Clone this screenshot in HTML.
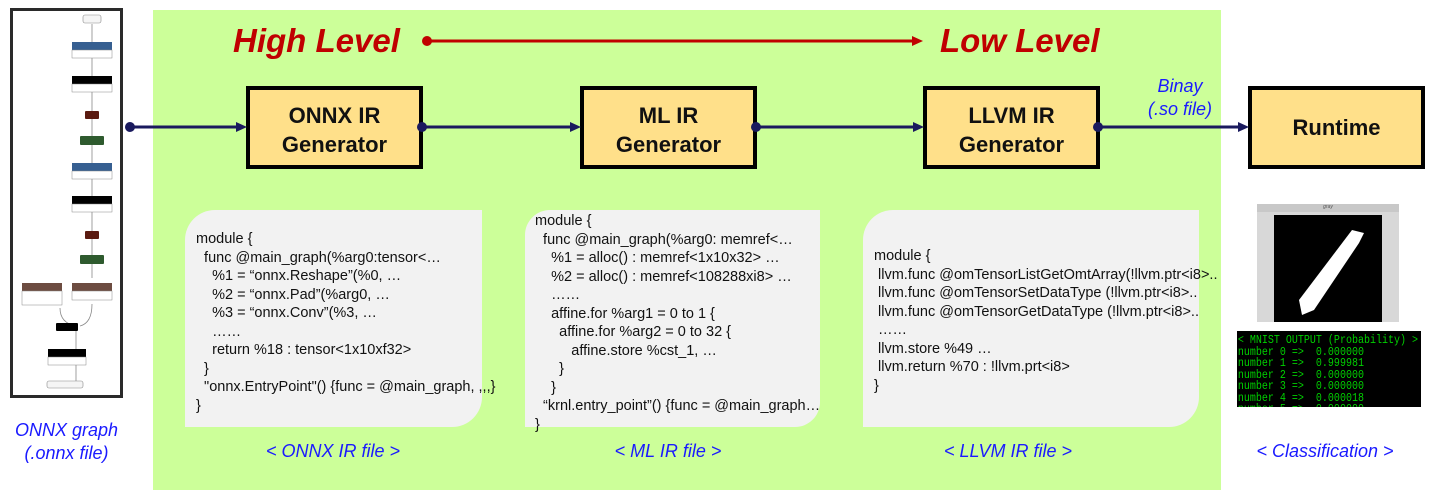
<!DOCTYPE html>
<html><head><meta charset="utf-8"><style>
*{margin:0;padding:0;box-sizing:border-box}
body{width:1434px;height:497px;background:#fff;position:relative;overflow:hidden;font-family:"Liberation Sans",Arial,sans-serif}
.a{position:absolute}
.green{left:153px;top:10px;width:1068px;height:480px;background:#ccff99}
.box{position:absolute;top:86px;height:83px;width:177px;background:#ffe08a;border:4px solid #000;font-weight:bold;font-size:22px;text-align:center;line-height:29px;padding-top:11px;color:#111}
.code{position:absolute;top:210px;height:217px;background:#f2f2f2;border-radius:30px 0 30px 0;font-size:14.5px;line-height:18.5px;color:#111;white-space:pre}
.lvl{position:absolute;top:22px;font-size:33px;font-weight:bold;font-style:italic;color:#c00000}
.lab{position:absolute;font-size:18px;font-style:italic;color:#1a1aff;text-align:center}
.term{left:1237px;top:331px;width:184px;height:76px;background:#000;overflow:hidden}
.term div{color:#00d000;font-family:"Liberation Mono",monospace;font-size:11.5px;line-height:11.5px;white-space:pre;transform:scaleX(0.87);transform-origin:0 0;padding:4px 0 0 1px}
</style></head><body>
<div class="a green"></div>

<div class="a" style="left:10px;top:8px;width:113px;height:390px;border:3px solid #2a2a2a;background:#fff"></div>
<svg class="a" style="left:10px;top:8px" width="113" height="390" font-family="Liberation Sans" font-size="4">
<g stroke="#888" stroke-width="0.8" fill="none">
<line x1="82" y1="16" x2="82" y2="270"/><path d="M50 300 Q50 315 66 318"/><path d="M82 296 Q82 315 70 318"/><line x1="66" y1="322" x2="66" y2="380"/>
</g>
<rect x="73" y="7" width="18" height="8" rx="2" fill="#f5f5f5" stroke="#888" stroke-width=".6"/>
<rect x="62" y="34" width="40" height="8" fill="#365f91"/><rect x="62" y="42" width="40" height="8" fill="#fff" stroke="#888" stroke-width=".5"/>
<rect x="62" y="68" width="40" height="8" fill="#000"/><rect x="62" y="76" width="40" height="8" fill="#fff" stroke="#888" stroke-width=".5"/>
<rect x="75" y="103" width="14" height="8" rx="1" fill="#5a1a10"/>
<rect x="70" y="128" width="24" height="9" rx="1" fill="#2e5a2e"/>
<rect x="62" y="155" width="40" height="8" fill="#365f91"/><rect x="62" y="163" width="40" height="8" fill="#fff" stroke="#888" stroke-width=".5"/>
<rect x="62" y="188" width="40" height="8" fill="#000"/><rect x="62" y="196" width="40" height="8" fill="#fff" stroke="#888" stroke-width=".5"/>
<rect x="75" y="223" width="14" height="8" rx="1" fill="#5a1a10"/>
<rect x="70" y="247" width="24" height="9" rx="1" fill="#2e5a2e"/>
<rect x="12" y="275" width="40" height="8" fill="#6d4c41"/><rect x="12" y="283" width="40" height="14" fill="#fff" stroke="#888" stroke-width=".5"/>
<rect x="62" y="275" width="40" height="8" fill="#6d4c41"/><rect x="62" y="283" width="40" height="9" fill="#fff" stroke="#888" stroke-width=".5"/>
<rect x="46" y="315" width="22" height="8" rx="1" fill="#000"/>
<rect x="38" y="341" width="38" height="8" fill="#000"/><rect x="38" y="349" width="38" height="8" fill="#fff" stroke="#888" stroke-width=".5"/>
<rect x="37" y="373" width="36" height="7" rx="2" fill="#f5f5f5" stroke="#888" stroke-width=".6"/>
</svg>

<div class="lvl" style="left:233px">High Level</div>
<div class="lvl" style="left:940px">Low Level</div>

<div class="box" style="left:246px">ONNX IR<br>Generator</div>
<div class="box" style="left:580px">ML IR<br>Generator</div>
<div class="box" style="left:923px">LLVM IR<br>Generator</div>
<div class="box" style="left:1248px;font-size:22px;line-height:75px;padding-top:0">Runtime</div>

<svg class="a" style="left:0;top:0" width="1434" height="497">
<g stroke="#1a1a5e" stroke-width="3" fill="#1a1a5e">
<line x1="130" y1="127" x2="240" y2="127"/><polygon points="247,127 236,122 236,132" stroke="none"/><circle cx="130" cy="127" r="5" stroke="none"/>
<line x1="422" y1="127" x2="574" y2="127"/><polygon points="581,127 570,122 570,132" stroke="none"/><circle cx="422" cy="127" r="5" stroke="none"/>
<line x1="756" y1="127" x2="917" y2="127"/><polygon points="924,127 913,122 913,132" stroke="none"/><circle cx="756" cy="127" r="5" stroke="none"/>
<line x1="1098" y1="127" x2="1242" y2="127"/><polygon points="1249,127 1238,122 1238,132" stroke="none"/><circle cx="1098" cy="127" r="5" stroke="none"/>
</g>
<line x1="427" y1="41" x2="915" y2="41" stroke="#c00000" stroke-width="3"/><circle cx="427" cy="41" r="5" fill="#c00000"/><polygon points="923,41 912,36 912,46" fill="#c00000"/>
</svg>

<div class="lab" style="left:1120px;top:75px;width:120px;line-height:23px">Binay<br>(.so file)</div>

<div class="code" style="left:185px;width:297px;padding:20px 0 0 11px">module {
  func @main_graph(%arg0:tensor&lt;…
    %1 = “onnx.Reshape”(%0, …
    %2 = “onnx.Pad”(%arg0, …
    %3 = “onnx.Conv”(%3, …
    ……
    return %18 : tensor&lt;1x10xf32&gt;
  }
  "onnx.EntryPoint"() {func = @main_graph, ,,,}
}</div>
<div class="code" style="left:525px;width:295px;padding:2px 0 0 10px;border-radius:25px 0 25px 0">module {
  func @main_graph(%arg0: memref&lt;…
    %1 = alloc() : memref&lt;1x10x32&gt; …
    %2 = alloc() : memref&lt;108288xi8&gt; …
    ……
    affine.for %arg1 = 0 to 1 {
      affine.for %arg2 = 0 to 32 {
         affine.store %cst_1, …
      }
    }
  “krnl.entry_point”() {func = @main_graph…
}</div>
<div class="code" style="left:863px;width:336px;padding:37px 0 0 11px;overflow:visible">module {
 llvm.func @omTensorListGetOmtArray(!llvm.ptr&lt;i8&gt;..
 llvm.func @omTensorSetDataType (!llvm.ptr&lt;i8&gt;..
 llvm.func @omTensorGetDataType (!llvm.ptr&lt;i8&gt;..
 ……
 llvm.store %49 …
 llvm.return %70 : !llvm.prt&lt;i8&gt;
}</div>

<div class="a" style="left:1257px;top:204px;width:142px;height:118px;background:#d8d8d8"></div>
<div class="a" style="left:1257px;top:204px;width:142px;height:8px;background:#c8c8c8;font-size:5px;color:#555;text-align:center;font-style:italic">gray</div>
<div class="a" style="left:1274px;top:215px;width:108px;height:107px;background:#000"></div>
<svg class="a" style="left:1274px;top:215px" width="108" height="107"><polygon points="78,15 90,18 85,28 40,95 28,100 25,85" fill="#fff"/></svg>
<div class="a term"><div>&lt; MNIST OUTPUT (Probability) &gt;
number 0 =&gt;  0.000000
number 1 =&gt;  0.999981
number 2 =&gt;  0.000000
number 3 =&gt;  0.000000
number 4 =&gt;  0.000018
number 5 =&gt;  0.000000</div></div>

<div class="lab" style="left:0;top:419px;width:133px;line-height:23px">ONNX graph<br>(.onnx file)</div>
<div class="lab" style="left:233px;top:441px;width:200px">&lt; ONNX IR file &gt;</div>
<div class="lab" style="left:568px;top:441px;width:200px">&lt; ML IR file &gt;</div>
<div class="lab" style="left:908px;top:441px;width:200px">&lt; LLVM IR file &gt;</div>
<div class="lab" style="left:1225px;top:441px;width:200px">&lt; Classification &gt;</div>
</body></html>
